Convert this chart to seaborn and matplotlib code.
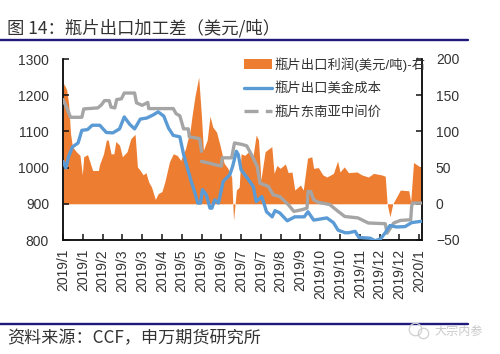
import matplotlib
matplotlib.use("Agg")
import matplotlib.pyplot as plt
from matplotlib.lines import Line2D
from matplotlib.patches import Patch
import seaborn as sns
import pandas as pd

# x positions are days since the first tick; one tick label every 21 days
tick_labels = ["2019/1","2019/1","2019/2","2019/3","2019/3","2019/4","2019/5","2019/5","2019/6","2019/7",
               "2019/7","2019/8","2019/9","2019/10","2019/10","2019/11","2019/12","2019/12","2020/1"]
tick_step_days = 21
last_day = 381

profit_day = [0,1,4,6,8,10,14,18,20.5,22,26,29,31.5,37.5,39,43,46,48,51,54,56,60,63,68,72,76.5,79,82,85,88,91,94,98,101,105,108,113,117,121,125,130,135,137,140,144,147,149,153,156,159,163,167,171,175,179,181,184,187,189,193,198.6,201,205,207.5,210,214.5,221.6,224,227,230.5,236,239,243,246,252,255,259.5,264,266,271,275.7,280,287,291.4,294,298.5,303,312,317,324,329.6,338,342,344,347,350,358,367,369,372,379,381]
profit_val = [157,166,157,138,97,79,72,67,40,65,68,56,46,46,55,69,88,88,69,69,86,81,65,72,90,96,51,46,40,43,30,23,6,14,17,30,58,69,67,60,76,102,122,148,175,120,74,88,121,106,99,79,56,49,37,-23,19,23,69,67,74,60,95,88,33,72,79,42,53,49,55,43,44,19,26,19,63,65,49,50,40,37,42,59,44,51,43,44,40,37,42,40,38,0,-18,0,19,18,3,57,51,51]

cost_day = [0,3,6,10,16,20,26,31,39,46,53,60,65,71,76,82,89,96,101,107,112,117,124,128,132,136,139,143,146,148,152,156,158,161,165,170,177,180,184,186,189,197,202,205,211,216,222,225,230,238,246,256,260,266,271,280,287,292,299.5,303,310,314,326,331,337,342,347,354,363,370,381]
cost_val = [1017,999,1031,1057,1068,1103,1105,1117,1117,1097,1096,1107,1140,1119,1107,1134,1137,1146,1154,1142,1109,1089,1085,1036,999,962,939,902,902,939,925,888,888,911,902,962,980,1003,1045,1036,994,966,947,906,920,878,864,881,875,853,864,864,878,855,857,861,848,827,820,820,824,807,805,798,803,820,840,836,837,848,852]

price_day_a = [0,4,8,20,22,37,41,44,49,51,55,57,62,65,76,78,84,90,91,117,120,124,128,133,134,145,147]
price_val_a = [1188,1165,1139,1139,1162,1165,1174,1185,1185,1167,1165,1188,1190,1206,1206,1179,1172,1180,1163,1163,1149,1143,1107,1107,1085,1080,1045]
price_day_b = [147,154,168,169,179,182,190,195,200,206,209,218,223,230,239,245,254,259,260,263,266,271,283,292,299,313,324,342,344,351,358,369,370,371,381]
price_val_b = [1017,1013,1004,1027,1027,1068,1064,1060,1036,1004,957,948,925,920,898,879,884,888,934,934,911,904,898,879,865,861,847,845,819,847,854,856,893,902,902]

legend_labels = ["瓶片出口利润(美元/吨)-右", "瓶片出口美金成本", "瓶片东南亚中间价"]
title_text = "图 14：瓶片出口加工差（美元/吨）"
source_text = "资料来源：CCF，申万期货研究所"
watermark_text = "大宗内参"

ORANGE = "#ED7D31"
BLUE = "#5B9BD5"
GRAY = "#A5A5A5"
NAVY = "#1F1A7A"
TEXT = "#333333"

sns.set_theme(style="white")
plt.rcParams["font.family"] = ["Liberation Sans", "Noto Sans CJK SC", "DejaVu Sans"]

W, H = 500, 354
fig = plt.figure(figsize=(W / 100, H / 100), dpi=100, facecolor="white")
ax = fig.add_axes([63 / W, 1 - 240 / H, 359 / W, 181 / H])
ax2 = ax.twinx()

ax2.fill_between(profit_day, 0, profit_val, color=ORANGE, lw=0, zorder=1)
ax2.set_ylim(-50, 200)
ax2.set_yticks([-50, 0, 50, 100, 150, 200])
ax.set_zorder(ax2.get_zorder() + 1)
ax.patch.set_visible(False)

for days, vals, col, z in [(price_day_a, price_val_a, GRAY, 3), (price_day_b, price_val_b, GRAY, 3),
                           (cost_day, cost_val, BLUE, 4)]:
    sns.lineplot(data=pd.DataFrame({"d": days, "v": vals}), x="d", y="v", ax=ax, color=col,
                 lw=2.4, estimator=None, sort=False, zorder=z)
ax.set_xlabel("")
ax.set_ylabel("")
ax.set_xlim(0, last_day)
ax.set_ylim(800, 1300)
ax.set_yticks([800, 900, 1000, 1100, 1200, 1300])
ax.set_xticks([i * tick_step_days for i in range(len(tick_labels))])
ax.set_xticklabels(tick_labels, rotation=90)

for a in (ax, ax2):
    for s in a.spines.values():
        s.set_color("#111111")
        s.set_linewidth(1.1)
    a.spines["top"].set_visible(False)
    a.tick_params(axis="both", direction="in", length=4.5, width=1.1, color="#111111",
                  labelsize=10, labelcolor=TEXT, pad=10, left=a is ax, right=a is ax2,
                  bottom=a is ax)
ax.tick_params(axis="x", pad=6.5)

handles = [Patch(color=ORANGE, lw=0),
           Line2D([0], [0], color=BLUE, lw=2.4),
           Line2D([0], [0], color=GRAY, lw=2.4, dashes=(4.2, 2.2))]
ax.legend(handles, legend_labels, loc="upper left", bbox_to_anchor=(244 / W, 1 - 57 / H),
          bbox_transform=fig.transFigure, frameon=False, fontsize=9.6, labelcolor=TEXT,
          handlelength=2.1, handletextpad=0.2, labelspacing=0.8, borderpad=0, borderaxespad=0)

for y in (39.5, 324):
    fig.add_artist(Line2D([0, 468 / W], [1 - y / H] * 2, color=NAVY, lw=1.7))
head_family = ["Noto Sans CJK SC", "DejaVu Sans"]
fig.text(7 / W, 1 - 28 / H, title_text, fontsize=12.5, color=TEXT, va="center", ha="left", family=head_family)
fig.text(7 / W, 1 - 338 / H, source_text, fontsize=12.3, color=TEXT, va="center", ha="left", family=head_family)
fig.text(434 / W, 1 - 331 / H, watermark_text, fontsize=8.7, color="#C9C9C9", va="center", ha="left",
         family=head_family)
for cx, cy, ms in [(415, 329, 9), (423, 333, 7.5)]:
    fig.add_artist(Line2D([cx / W], [1 - cy / H], marker="o", ms=ms, mfc="none", mec="#D0D0D0",
                          mew=0.9, ls="none", transform=fig.transFigure))

fig.savefig("out.png", dpi=100, facecolor="white")
